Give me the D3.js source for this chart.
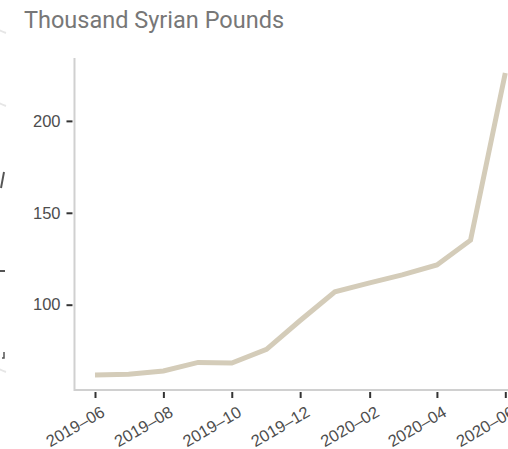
<!DOCTYPE html>
<meta charset="utf-8">
<script src="https://d3js.org/d3.v7.min.js"></script>
<style>
  body { margin: 0; background: #fff; }
</style>
<div id="chart"></div>
<script>

// monthly values, thousand Syrian pounds
var months = ["2019-06","2019-07","2019-08","2019-09","2019-10","2019-11","2019-12",
              "2020-01","2020-02","2020-03","2020-04","2020-05","2020-06"];
var values = [61.8, 62.2, 63.9, 68.6, 68.3, 75.7, 91.4,
              107.0, 111.9, 116.2, 121.6, 135.1, 226.0];
var xTicks = ["2019-06","2019-08","2019-10","2019-12","2020-02","2020-04","2020-06"];
var yTicks = [100, 150, 200];
var subtitle = "Thousand Syrian Pounds";

var W = 508, H = 449;
var parse = d3.timeParse("%Y-%m");
var data = months.map(function(m, i) { return {date: parse(m), value: values[i]}; });

var svg = d3.select("#chart").append("svg")
  .attr("width", W)
  .attr("height", H);

// ggplot style 5% expansion on both axes
var x0 = 95, x1 = 505.3;
var x = d3.scaleTime()
  .domain(d3.extent(data, function(d) { return d.date; }))
  .range([x0, x1]);
var padX = (x1 - x0) * 0.05;
var plotLeft = x0 - padX;

var vmin = d3.min(values), vmax = d3.max(values), padY = (vmax - vmin) * 0.05;
var plotBottom = 390, plotTop = 58;
var y = d3.scaleLinear()
  .domain([vmin - padY, vmax + padY])
  .range([plotBottom, plotTop]);

// bits of the neighbouring panel that peek in at the left edge
var edge = svg.append("g");
[32, 105, 371].forEach(function(yy) {
  edge.append("path")
    .attr("d", "M-1," + (yy - 2) + " Q3," + yy + " 6," + (yy + 1))
    .attr("fill", "none").attr("stroke", "#e6e6e6").attr("stroke-width", 2);
});
edge.append("path").attr("d", "M4,172 L1,188")
  .attr("stroke", "#555").attr("stroke-width", 2);
edge.append("path").attr("d", "M0,271 L5,271")
  .attr("stroke", "#555").attr("stroke-width", 2);
edge.append("path").attr("d", "M4,352 L4,358 L2,358")
  .attr("fill", "none").attr("stroke", "#555").attr("stroke-width", 1.5);

// subtitle
svg.append("text")
  .attr("x", 24)
  .attr("y", 28)
  .style("font-family", "Roboto, sans-serif")
  .style("font-size", "23.5px")
  .style("fill", "#777")
  .text(subtitle);

// axes
var xAxis = svg.append("g")
  .attr("transform", "translate(0," + plotBottom + ")")
  .call(d3.axisBottom(x)
    .tickValues(xTicks.map(parse))
    .tickFormat(d3.timeFormat("%Y\u2013%m"))
    .tickSizeOuter(0)
    .tickSize(8)
    .tickPadding(5));
xAxis.select(".domain").remove();
xAxis.append("line")
  .attr("x1", plotLeft).attr("x2", W + 20)
  .attr("stroke", "#d0d0d0").attr("stroke-width", 2);
xAxis.selectAll(".tick line")
  .attr("y1", 2)
  .attr("stroke", "#333").attr("stroke-width", 2);
xAxis.selectAll(".tick text")
  .attr("transform", "translate(-2,4) rotate(-30)")
  .attr("text-anchor", "end")
  .attr("dy", "0.71em")
  .style("font-family", "'Liberation Sans', Arial, sans-serif")
  .style("font-size", "16.5px")
  .style("fill", "#4d4d4d");

var yAxis = svg.append("g")
  .attr("transform", "translate(" + plotLeft + ",0)")
  .call(d3.axisLeft(y)
    .tickValues(yTicks)
    .tickSizeOuter(0)
    .tickSize(8)
    .tickPadding(6));
yAxis.select(".domain").remove();
yAxis.append("line")
  .attr("y1", plotTop).attr("y2", plotBottom + 1)
  .attr("stroke", "#d0d0d0").attr("stroke-width", 2);
yAxis.selectAll(".tick line")
  .attr("x1", -2)
  .attr("stroke", "#333").attr("stroke-width", 2);
yAxis.selectAll(".tick text")
  .style("font-family", "'Liberation Sans', Arial, sans-serif")
  .style("font-size", "16.5px")
  .style("fill", "#4d4d4d");

// the series
var line = d3.line()
  .x(function(d) { return x(d.date); })
  .y(function(d) { return y(d.value); });

svg.append("path")
  .datum(data)
  .attr("d", line)
  .attr("fill", "none")
  .attr("stroke", "#d4ccb9")
  .attr("stroke-width", 5);

</script>
